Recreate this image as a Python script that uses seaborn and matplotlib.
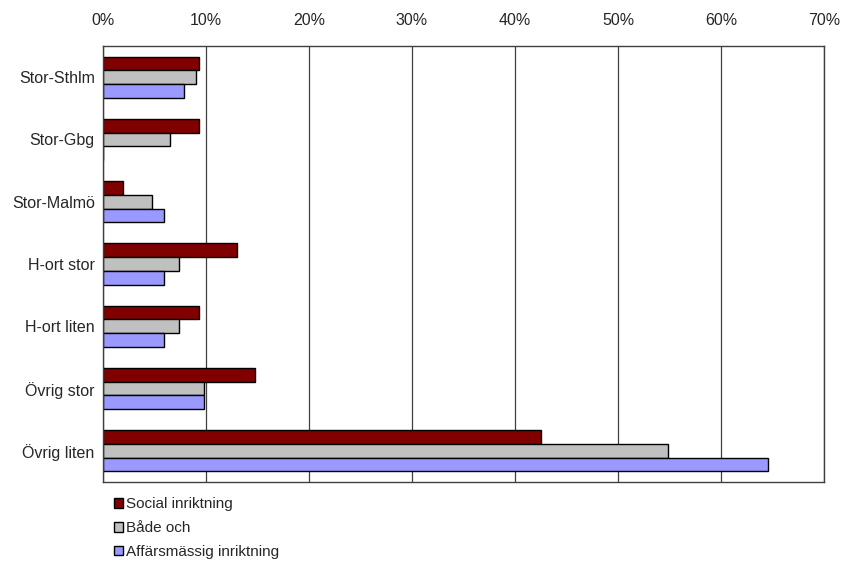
import matplotlib
matplotlib.use("Agg")
import matplotlib.pyplot as plt
import seaborn as sns
import pandas as pd

regions = ["Stor-Sthlm", "Stor-Gbg", "Stor-Malmö", "H-ort stor", "H-ort liten", "Övrig stor", "Övrig liten"]
series = ["Social inriktning", "Både och", "Affärsmässig inriktning"]
social = [9.3, 9.3, 1.9, 13.0, 9.3, 14.8, 42.5]
bade = [9.0, 6.5, 4.8, 7.4, 7.4, 9.8, 54.9]
affars = [7.9, 0.0, 5.9, 5.9, 5.9, 9.8, 64.6]
xticks = [0, 10, 20, 30, 40, 50, 60, 70]
colors = ["#800000", "#C0C0C0", "#9999FF"]

rows = []
for name, vals in zip(series, [social, bade, affars]):
    for r, v in zip(regions, vals):
        rows.append({"region": r, "series": name, "value": v})
df = pd.DataFrame(rows)

sns.set_style("white")
plt.rcParams["font.family"] = ["Liberation Sans", "DejaVu Sans"]

fig = plt.figure(figsize=(8.46, 5.64), dpi=100)
ax = fig.add_axes([103/846, 1-482/564, (824-103)/846, (482-46)/564])

sns.barplot(data=df, y="region", x="value", hue="series", orient="h",
            order=regions, hue_order=series, palette=colors, saturation=1,
            edgecolor="black", linewidth=1, width=0.66, ax=ax, legend=True)

ax.set_xlim(0, 70)
ax.set_xticks(xticks)
ax.set_xticklabels([f"{v}%" for v in xticks])
ax.xaxis.tick_top()
ax.set_xlabel("")
ax.set_ylabel("")
ax.tick_params(axis="x", length=0, pad=13, labelsize=11.5)
ax.tick_params(axis="y", length=0, pad=6, labelsize=11.5)
ax.grid(axis="x", color="#404040", linewidth=0.9)
ax.grid(axis="y", visible=False)
ax.set_axisbelow(True)
for s in ax.spines.values():
    s.set_visible(True)
    s.set_color("#404040")
    s.set_linewidth(1)

handles, labels = ax.get_legend_handles_labels()
ax.get_legend().remove()
fig.legend(handles, labels, loc="upper left", bbox_to_anchor=(108/846, 1-491/564),
           frameon=False, fontsize=11, handlelength=0.6, handleheight=0.6,
           handletextpad=0.2, labelspacing=0.65, borderaxespad=0)

fig.savefig("out.png", dpi=100)
